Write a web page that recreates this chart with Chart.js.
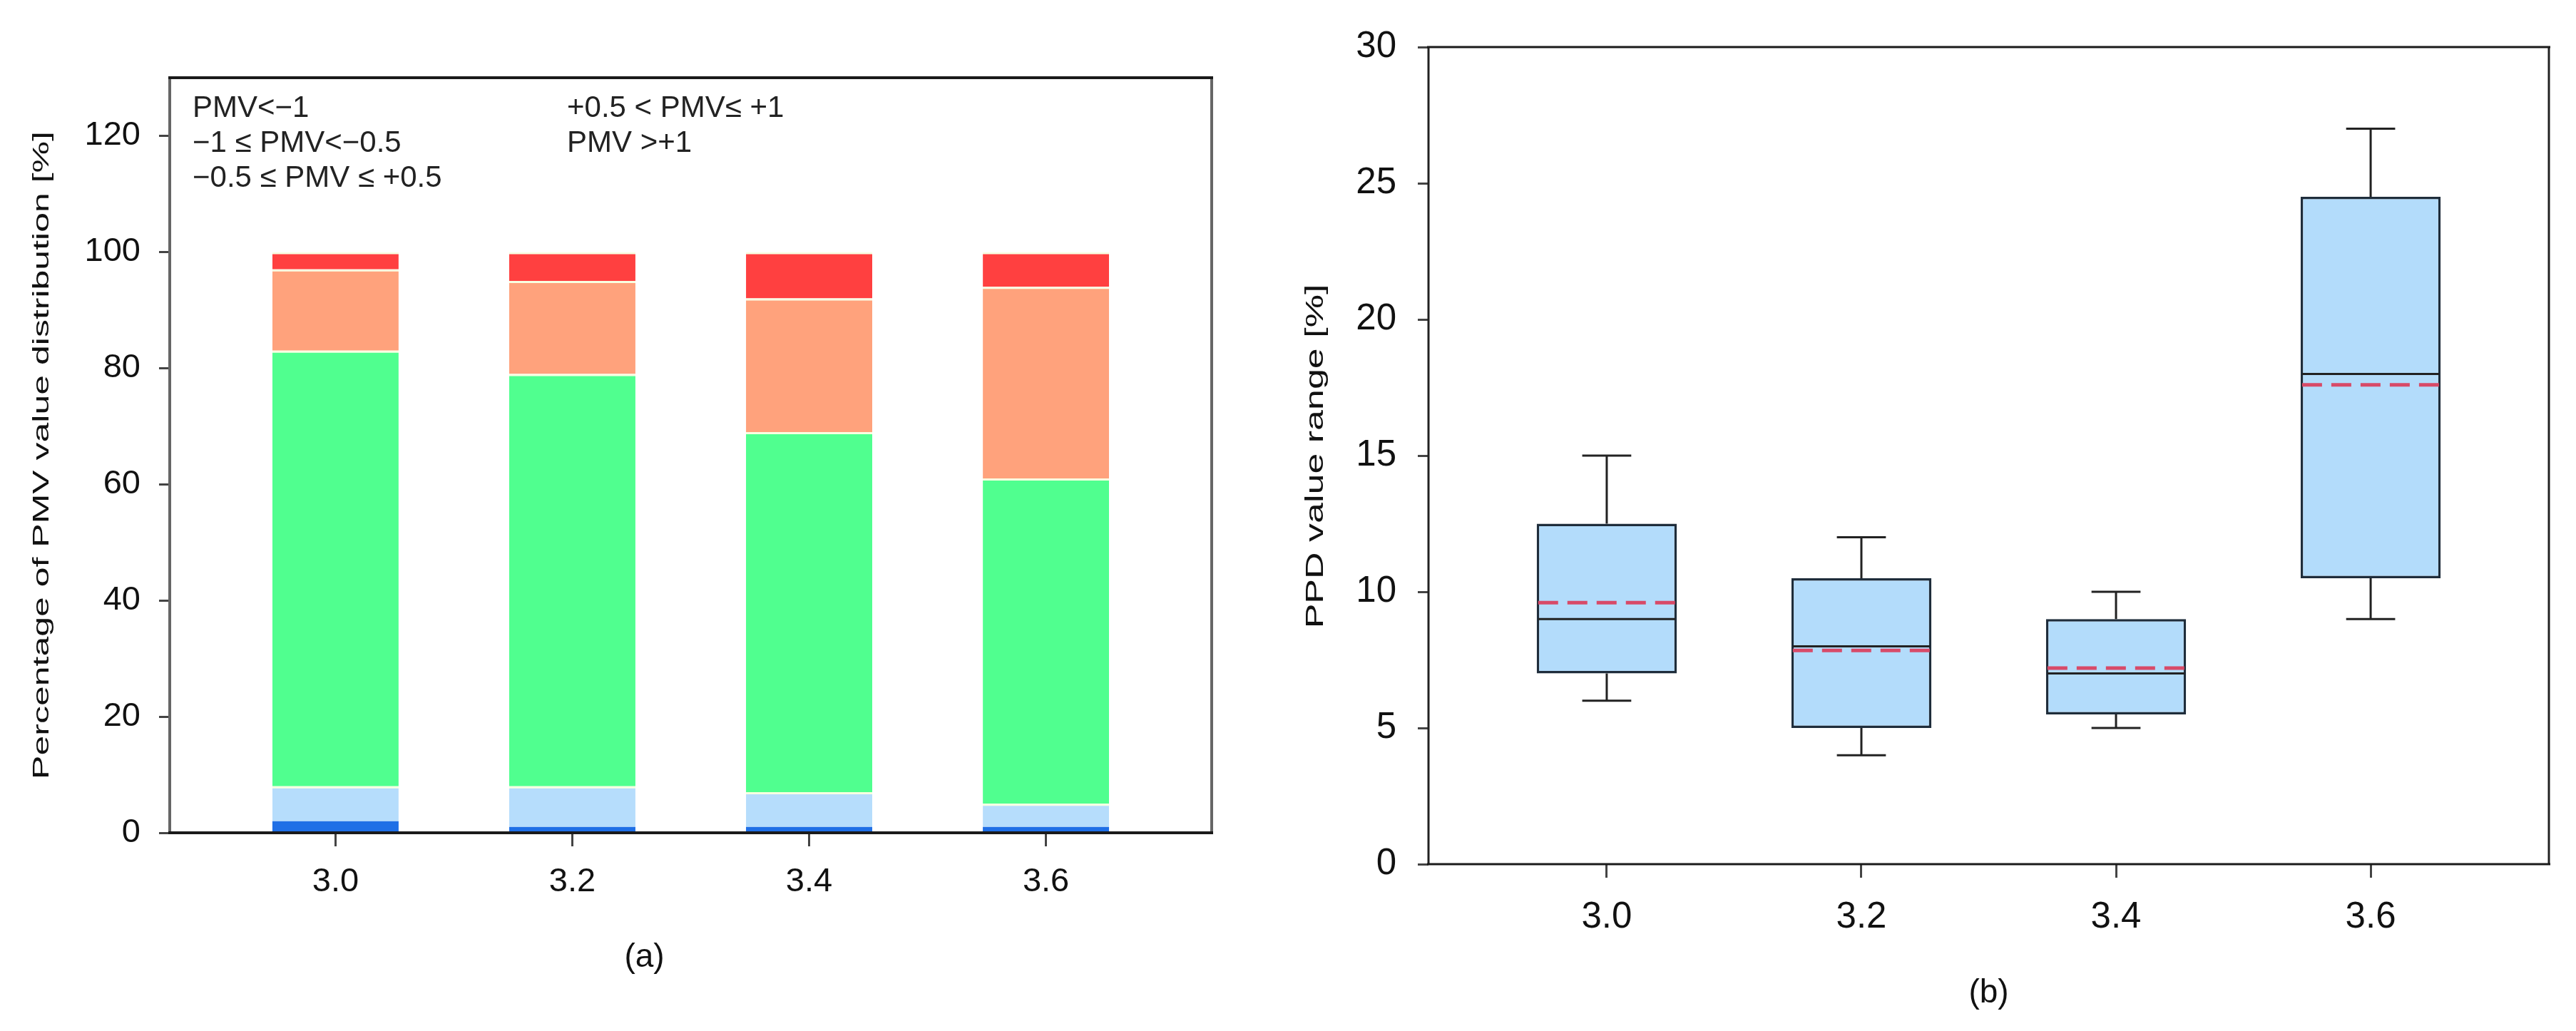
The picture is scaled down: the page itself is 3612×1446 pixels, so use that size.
<!DOCTYPE html>
<html>
<head>
<meta charset="utf-8">
<script src="https://cdn.jsdelivr.net/npm/chart.js@4.4.1/dist/chart.umd.min.js"></script>
<style>
  body { margin: 0; background: #fff; }
  #wrap { position: relative; width: 3612px; height: 1446px; }
  canvas { position: absolute; top: 0; }
  #pmv { left: 0; }
  #ppd { left: 1800px; }
</style>
</head>
<body>
<div id="wrap">
  <canvas id="pmv" width="1800" height="1446"></canvas>
  <canvas id="ppd" width="1812" height="1446"></canvas>
</div>
<script>
const FONT = "'Liberation Sans', Arial, sans-serif";

const categories = [3.0, 3.2, 3.4, 3.6];
const xTicks = [3.0, 3.2, 3.4, 3.6];

// (a) share of PMV classes in %, stacked bottom to top
const pmvLabels = ['PMV<−1', '−1 ≤ PMV<−0.5', '−0.5 ≤ PMV ≤ +0.5', '+0.5 < PMV≤ +1', 'PMV >+1'];
const pmvVeryCool = [2, 1, 1, 1];
const pmvCool = [6, 7, 6, 4];
const pmvNeutral = [75, 71, 62, 56];
const pmvWarm = [14, 16, 23, 33];
const pmvHot = [3, 5, 8, 6];
const pmvColors = ['#1f6fe6', '#b6ddfc', '#50ff8f', '#ffa27c', '#ff4040'];
const pmvTicks = [0, 20, 40, 60, 80, 100, 120];

// (b) PPD box plot
const ppdMin = [6, 4, 5, 9];
const ppdQ1 = [7, 5, 5.5, 10.5];
const ppdMedian = [9, 8, 7, 18];
const ppdMean = [9.6, 7.85, 7.2, 17.6];
const ppdQ3 = [12.5, 10.5, 9, 24.5];
const ppdMax = [15, 12, 10, 27];
const ppdTicks = [0, 5, 10, 15, 20, 25, 30];

// closed frame around the plot area
const frame = {
  id: 'frame',
  afterDatasetsDraw(chart, args, opts) {
    const { ctx, chartArea: a } = chart;
    ctx.save();
    ctx.lineWidth = opts.width;
    ctx.strokeStyle = opts.side;
    ctx.beginPath();
    ctx.moveTo(a.left, a.top); ctx.lineTo(a.left, a.bottom);
    ctx.moveTo(a.right, a.top); ctx.lineTo(a.right, a.bottom);
    ctx.stroke();
    ctx.strokeStyle = opts.color;
    ctx.beginPath();
    ctx.moveTo(a.left - 2, a.top); ctx.lineTo(a.right + 2, a.top);
    ctx.moveTo(a.left - 2, a.bottom); ctx.lineTo(a.right + 2, a.bottom);
    ctx.stroke();
    ctx.restore();
  }
};

// axis titles: rotated y title (narrow) and the panel letter under the x axis
const titles = {
  id: 'titles',
  afterDraw(chart, args, o) {
    const { ctx, chartArea: a } = chart;
    ctx.save();
    ctx.fillStyle = '#111';
    ctx.font = o.ySize + 'px ' + FONT;
    ctx.translate(o.yX, (a.top + a.bottom) / 2 + o.yShift);
    ctx.rotate(-Math.PI / 2);
    ctx.scale(1, o.ySquash);
    ctx.textAlign = 'center';
    ctx.textBaseline = 'alphabetic';
    ctx.fillText(o.yText, 0, 0);
    ctx.restore();

    ctx.save();
    ctx.fillStyle = '#111';
    ctx.font = o.xSize + 'px ' + FONT;
    ctx.textAlign = 'center';
    ctx.textBaseline = 'middle';
    ctx.fillText(o.xText, (a.left + a.right) / 2 + o.xShift, o.xY);
    ctx.restore();
  }
};

// text-only legend in two columns inside the plot
const textLegend = {
  id: 'textLegend',
  afterDraw(chart, args, o) {
    const { ctx, chartArea: a } = chart;
    ctx.save();
    ctx.fillStyle = '#222';
    ctx.font = o.size + 'px ' + FONT;
    ctx.textAlign = 'left';
    ctx.textBaseline = 'middle';
    chart.data.datasets.forEach((ds, i) => {
      const col = i < 3 ? 0 : 1;
      const row = i < 3 ? i : i - 3;
      ctx.fillText(ds.label, a.left + o.cols[col], a.top + o.top + row * o.rowGap);
    });
    ctx.restore();
  }
};

// whiskers, caps, median and mean of the box plot
const boxLines = {
  id: 'boxLines',
  afterDatasetsDraw(chart) {
    const { ctx, scales: { x, y } } = chart;
    const boxes = chart.getDatasetMeta(0).data;
    ctx.save();
    categories.forEach((c, i) => {
      const cx = x.getPixelForValue(c);
      const half = boxes[i].width / 2;
      const cap = half * 0.35;
      const yMin = y.getPixelForValue(ppdMin[i]);
      const yMax = y.getPixelForValue(ppdMax[i]);
      ctx.setLineDash([]);
      ctx.strokeStyle = '#222';
      ctx.lineWidth = 3;
      ctx.beginPath();
      ctx.moveTo(cx, y.getPixelForValue(ppdQ3[i])); ctx.lineTo(cx, yMax);
      ctx.moveTo(cx, y.getPixelForValue(ppdQ1[i])); ctx.lineTo(cx, yMin);
      ctx.moveTo(cx - cap, yMax); ctx.lineTo(cx + cap, yMax);
      ctx.moveTo(cx - cap, yMin); ctx.lineTo(cx + cap, yMin);
      const yMed = y.getPixelForValue(ppdMedian[i]);
      ctx.moveTo(cx - half + 2, yMed); ctx.lineTo(cx + half - 2, yMed);
      ctx.stroke();

      const yMean = y.getPixelForValue(ppdMean[i]);
      ctx.strokeStyle = '#d84a68';
      ctx.lineWidth = 5;
      ctx.setLineDash([28, 13]);
      ctx.beginPath();
      ctx.moveTo(cx - half + 2, yMean); ctx.lineTo(cx + half - 2, yMean);
      ctx.stroke();
    });
    ctx.restore();
  }
};

function xAxis(size, pad, height, stacked) {
  return {
    type: 'linear',
    min: 2.86,
    max: 3.74,
    offset: false,
    stacked: stacked,
    afterBuildTicks: s => { s.ticks = xTicks.map(v => ({ value: v })); },
    afterFit: s => { s.height = height; },
    ticks: { callback: v => v.toFixed(1), padding: pad, color: '#111', font: { family: FONT, size: size } },
    grid: { offset: false, drawOnChartArea: false, tickLength: 19, tickWidth: 3, color: '#444' },
    border: { display: false }
  };
}

function yAxis(max, ticks, size, pad, width, stacked) {
  return {
    min: 0,
    max: max,
    stacked: stacked,
    afterBuildTicks: s => { s.ticks = ticks.map(v => ({ value: v })); },
    afterFit: s => { s.width = width; },
    ticks: { padding: pad, color: '#111', font: { family: FONT, size: size } },
    grid: { drawOnChartArea: false, tickLength: 15, tickWidth: 3, color: '#444' },
    border: { display: false }
  };
}

const pmvSeries = [pmvVeryCool, pmvCool, pmvNeutral, pmvWarm, pmvHot];

new Chart(document.getElementById('pmv'), {
  type: 'bar',
  data: {
    datasets: pmvSeries.map((vals, k) => ({
      label: pmvLabels[k],
      data: categories.map((c, i) => ({ x: c, y: vals[i] })),
      backgroundColor: pmvColors[k],
      borderColor: 'rgba(248,255,225,1)',
      borderWidth: { top: k === 0 ? 0 : 3, right: 0, bottom: 0, left: 0 },
      borderSkipped: false,
      barPercentage: 0.533,
      categoryPercentage: 1
    }))
  },
  options: {
    responsive: false,
    animation: false,
    events: [],
    layout: { padding: { top: 109, right: 101, bottom: 0, left: 0 } },
    scales: {
      x: xAxis(47, 22, 278, true),
      y: yAxis(130, pmvTicks, 47, 26, 238, true)
    },
    plugins: {
      legend: { display: false },
      tooltip: { enabled: false },
      frame: { color: '#1a1a1a', side: '#666', width: 4 },
      textLegend: { size: 42, cols: [32, 557], top: 43, rowGap: 49 },
      titles: {
        yText: 'Percentage of PMV value distribution [%]', ySize: 50, ySquash: 0.64, yX: 68, yShift: 0,
        xText: '(a)', xSize: 46, xShift: -65, xY: 1343
      }
    }
  },
  plugins: [frame, textLegend, titles]
});

new Chart(document.getElementById('ppd'), {
  type: 'bar',
  data: {
    datasets: [{
      label: 'PPD',
      data: categories.map((c, i) => ({ x: c, y: [ppdQ1[i], ppdQ3[i]] })),
      backgroundColor: '#b3dcfb',
      borderColor: '#1f2d3b',
      borderWidth: 3.5,
      borderSkipped: false,
      barPercentage: 0.55,
      categoryPercentage: 1
    }]
  },
  options: {
    responsive: false,
    animation: false,
    events: [],
    layout: { padding: { top: 66, right: 38, bottom: 0, left: 0 } },
    scales: {
      x: xAxis(51, 25, 234, false),
      y: yAxis(30, ppdTicks, 51, 30, 203, false)
    },
    plugins: {
      legend: { display: false },
      tooltip: { enabled: false },
      frame: { color: '#1a1a1a', side: '#222', width: 3 },
      titles: {
        yText: 'PPD value range [%]', ySize: 52, ySquash: 0.68, yX: 55, yShift: 1,
        xText: '(b)', xSize: 46, xShift: 0, xY: 1393
      }
    }
  },
  plugins: [frame, boxLines, titles]
});
</script>
</body>
</html>
